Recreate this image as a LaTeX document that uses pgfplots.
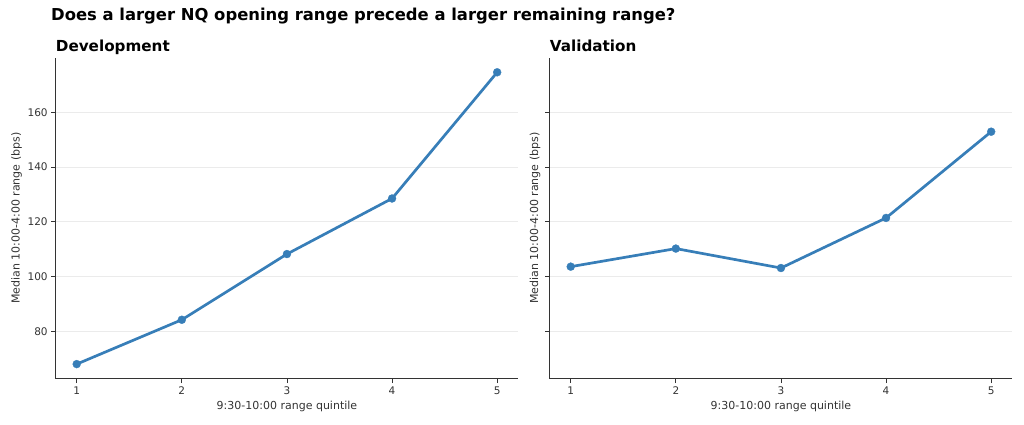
\documentclass[border=0pt]{standalone}
\usepackage{pgfplots}
\pgfplotsset{compat=1.18}
\usepackage{fontspec}
\setmainfont{DejaVu Sans}
\definecolor{lineblue}{HTML}{377EB8}
\definecolor{spine}{HTML}{333333}
\definecolor{gridc}{HTML}{EBEBEB}

\pgfplotstableread{
q val
1 68.0
2 84.2
3 108.2
4 128.5
5 174.6
}\devtable
\pgfplotstableread{
q val
1 103.6
2 110.2
3 103.1
4 121.4
5 152.9
}\valtable

\pgfplotsset{
  myax/.style={
    scale only axis, width=462.5bp, height=321bp,
    xmin=0.8, xmax=5.2, ymin=62.67, ymax=179.93,
    axis lines=left,
    axis line style={-, spine, line width=0.8bp},
    xtick={1,2,3,4,5}, ytick={80,100,120,140,160},
    tick style={spine, line width=0.8bp},
    tick align=outside, major tick length=4.5bp,
    ymajorgrids, grid style={gridc, line width=0.8bp},
    tick label style={font=\fontsize{10.5bp}{12bp}\selectfont, text=spine},
    /pgf/number format/assume math mode=true,
    xlabel={9:30-10:00 range quintile},
    ylabel={Median 10:00-4:00 range (bps)},
    label style={font=\fontsize{11bp}{13bp}\selectfont, text=spine},
    xlabel style={at={(axis description cs:0.5,0)}, anchor=base, yshift=-30.6bp},
    title style={at={(axis description cs:0,1)}, anchor=base west, yshift=0bp, font=\fontsize{15.2bp}{18bp}\selectfont\bfseries, inner sep=0pt},
    clip=false,
  },
  myplot/.style={color=lineblue, line width=2.7bp, mark=*, mark size=4bp, mark options={fill=lineblue, draw=lineblue, line width=0.3bp}},
}

\begin{document}
\begin{tikzpicture}
\useasboundingbox (0,0) rectangle (1024bp,425bp);
\node[anchor=base west, inner sep=0pt, font=\fontsize{16.4bp}{19bp}\selectfont\bfseries] at (51bp,404bp) {Does a larger NQ opening range precede a larger remaining range?};
\begin{axis}[myax, at={(55.7bp,46.3bp)}, anchor=south west,
  title={Development},
  ylabel style={at={(axis description cs:-0.0843,0.5)}, anchor=center},
]
\addplot[myplot] table[x=q, y=val] {\devtable};
\end{axis}
\begin{axis}[myax, at={(549.7bp,46.3bp)}, anchor=south west,
  title={Validation},
  yticklabels={},
  ylabel style={at={(axis description cs:-0.0318,0.5)}, anchor=center},
]
\addplot[myplot] table[x=q, y=val] {\valtable};
\end{axis}
\end{tikzpicture}
\end{document}
